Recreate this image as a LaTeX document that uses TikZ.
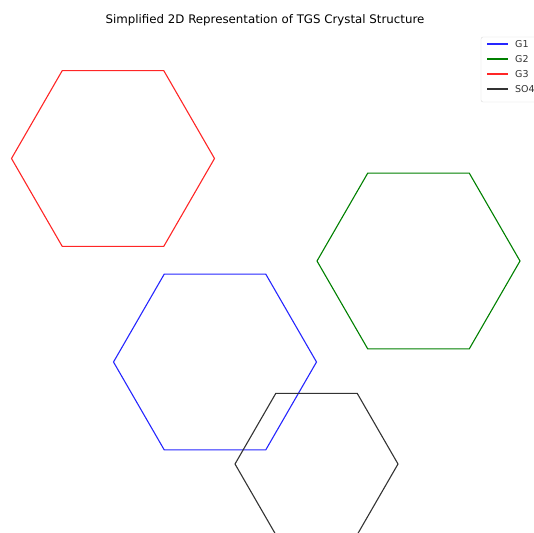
\documentclass[tikz,border=0pt]{standalone}
\usepackage{fontspec}
\setmainfont{DejaVu Sans}
\begin{document}
\begin{tikzpicture}[x=1pt,y=-1pt,
  hexline/.style={line width=1.1pt},
  legtext/.style={anchor=west,inner sep=0pt,font=\fontsize{9.5}{10}\selectfont,text=black!80}]
\useasboundingbox (0,0) rectangle (534,532);
\clip (0,0) rectangle (534,532);
% title
\node (title) at (265,20) {\fontsize{11.8}{13}\selectfont Simplified 2D Representation of TGS Crystal Structure};
% hexagons
\coordinate (g3) at (113,158.5);
\coordinate (g2) at (418.5,261);
\coordinate (g1) at (215,362);
\coordinate (so4) at (316.5,464);
\draw[hexline,red!85] (g3) +(0:101.5) -- +(60:101.5) -- +(120:101.5) -- +(180:101.5) -- +(240:101.5) -- +(300:101.5) -- cycle;
\draw[hexline,green!50!black] (g2) +(0:101.5) -- +(60:101.5) -- +(120:101.5) -- +(180:101.5) -- +(240:101.5) -- +(300:101.5) -- cycle;
\draw[hexline,blue!85] (g1) +(0:101.5) -- +(60:101.5) -- +(120:101.5) -- +(180:101.5) -- +(240:101.5) -- +(300:101.5) -- cycle;
\draw[hexline,black!80] (so4) +(0:81.5) -- +(60:81.5) -- +(120:81.5) -- +(180:81.5) -- +(240:81.5) -- +(300:81.5) -- cycle;
% legend
\draw[black!15,fill=white,rounded corners=2pt] (481,37) rectangle (545,102);
\draw[hexline,blue!85] (487,44) -- (508,44);
\node[legtext] (l1) at (515,44) {G1};
\draw[hexline,green!50!black] (487,59) -- (508,59);
\node[legtext] (l2) at (515,59) {G2};
\draw[hexline,red!85] (487,74) -- (508,74);
\node[legtext] (l3) at (515,74) {G3};
\draw[hexline,black!80] (487,89) -- (508,89);
\node[legtext] (l4) at (515,89) {SO4};
\end{tikzpicture}
\end{document}
